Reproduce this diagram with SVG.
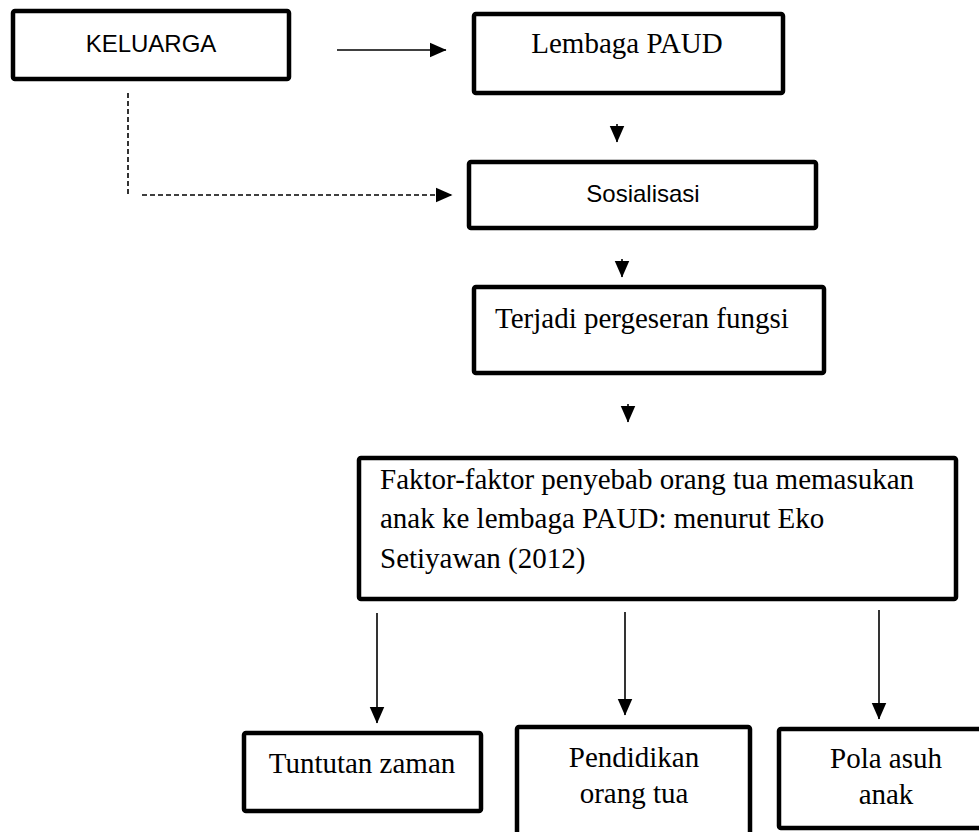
<svg xmlns="http://www.w3.org/2000/svg" width="979" height="832" viewBox="0 0 979 832">
<style>
.box{fill:#fff;stroke:#000;stroke-width:4.5;stroke-linejoin:round}
.serif{font-family:"Liberation Serif","Times New Roman",serif;font-size:29px;fill:#000}
.sans{font-family:"Liberation Sans",Arial,sans-serif;font-size:24px;fill:#000}
.conn{stroke:#000;stroke-width:1.6;fill:none}
.dash{stroke:#000;stroke-width:1.6;fill:none;stroke-dasharray:5 3}
</style>
<defs>
<marker id="ah" markerUnits="userSpaceOnUse" markerWidth="17" markerHeight="16" viewBox="0 0 17 16" refX="16.5" refY="8" orient="auto">
<path d="M0,0.5 L17,8 L0,15.5 Z" fill="#000"/>
</marker>
</defs>
<rect width="979" height="832" fill="#fff"/>
<g id="connectors">
<line class="conn" x1="337" y1="50" x2="446" y2="50" marker-end="url(#ah)"/>
<line class="dash" x1="128" y1="93" x2="128" y2="195"/>
<line class="dash" x1="142" y1="195" x2="452" y2="195" marker-end="url(#ah)"/>
<line class="conn" x1="617" y1="124" x2="617" y2="142" marker-end="url(#ah)"/>
<line class="conn" x1="622" y1="259" x2="622" y2="277" marker-end="url(#ah)"/>
<line class="conn" x1="628" y1="404" x2="628" y2="422" marker-end="url(#ah)"/>
<line class="conn" x1="377" y1="613" x2="377" y2="723" marker-end="url(#ah)"/>
<line class="conn" x1="625" y1="612" x2="625" y2="715" marker-end="url(#ah)"/>
<line class="conn" x1="879" y1="610" x2="879" y2="719" marker-end="url(#ah)"/>
</g>
<g id="keluarga">
<rect class="box" x="13" y="11" width="276" height="68" rx="2"/>
<text class="sans" x="151" y="52" text-anchor="middle">KELUARGA</text>
</g>
<g id="lembaga">
<rect class="box" x="474" y="14" width="309" height="79" rx="2"/>
<text class="serif" x="627" y="53" text-anchor="middle">Lembaga PAUD</text>
</g>
<g id="sosialisasi">
<rect class="box" x="469" y="162" width="347" height="66" rx="2"/>
<text class="sans" x="643" y="202" text-anchor="middle">Sosialisasi</text>
</g>
<g id="terjadi">
<rect class="box" x="474" y="287" width="350" height="86" rx="2"/>
<text class="serif" x="495" y="328">Terjadi pergeseran fungsi</text>
</g>
<g id="faktor">
<rect class="box" x="359" y="458" width="597" height="141" rx="2"/>
<text class="serif" x="380" y="489">Faktor-faktor penyebab orang tua memasukan</text>
<text class="serif" x="380" y="528">anak ke lembaga PAUD: menurut Eko</text>
<text class="serif" x="380" y="568">Setiyawan (2012)</text>
</g>
<g id="tuntutan">
<rect class="box" x="244" y="733" width="237" height="78" rx="2"/>
<text class="serif" x="362" y="773" text-anchor="middle">Tuntutan zaman</text>
</g>
<g id="pendidikan">
<rect class="box" x="517" y="727" width="233" height="120" rx="2"/>
<text class="serif" x="634" y="767" text-anchor="middle">Pendidikan</text>
<text class="serif" x="634" y="803" text-anchor="middle">orang tua</text>
</g>
<g id="pola">
<rect class="box" x="779" y="729" width="215" height="99" rx="2"/>
<text class="serif" x="886" y="768" text-anchor="middle">Pola asuh</text>
<text class="serif" x="886" y="804" text-anchor="middle">anak</text>
</g>
</svg>
